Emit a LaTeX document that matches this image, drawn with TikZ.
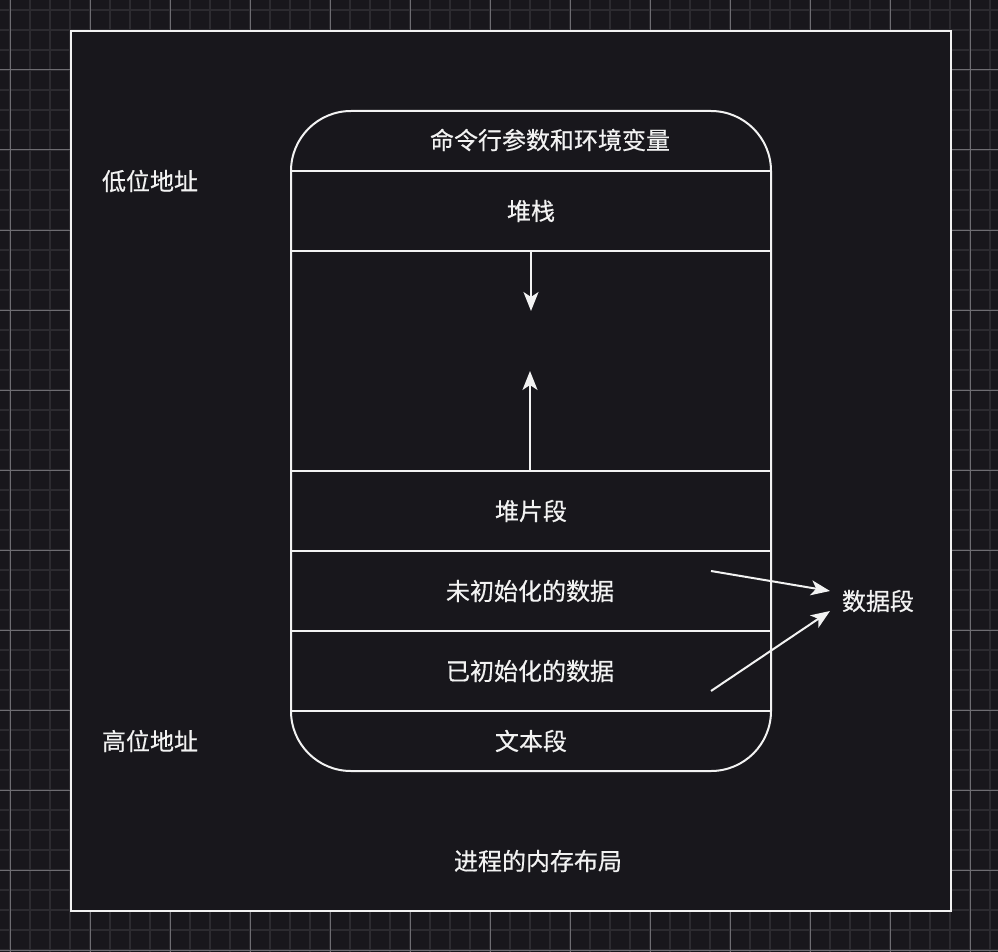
\documentclass[tikz,border=0pt]{standalone}
\usepackage{fontspec}
\newfontfamily\cjk{Noto Sans CJK SC}[FakeBold=0.5]
\usetikzlibrary{arrows.meta}
\definecolor{bg}{HTML}{18171C}
\definecolor{minorgrid}{HTML}{2C2B30}
\definecolor{majorgrid}{HTML}{6E6D72}
\definecolor{fg}{HTML}{F2F2F2}
\tikzset{
  lbl/.style={text=fg,font=\cjk\fontsize{24}{28}\selectfont,inner sep=0pt},
  memline/.style={draw=fg,line width=2pt},
  arr/.style={draw=fg,line width=2pt,-{Stealth[length=19pt,width=15pt,inset=5pt]}},
}
\begin{document}
\begin{tikzpicture}[x=1pt,y=-1pt]
\useasboundingbox (0,0) rectangle (998,952);
\fill[bg] (0,0) rectangle (998,952);
% grid
\foreach \i in {0,...,49} {
  \draw[minorgrid,line width=2pt] ({10+20*\i},0) -- ({10+20*\i},952);
  \draw[minorgrid,line width=2pt] (0,{10+20*\i}) -- (998,{10+20*\i});
}
\foreach \i in {0,...,12} {
  \draw[majorgrid,line width=1pt] ({10+80*\i},0) -- ({10+80*\i},952);
}
\foreach \i in {-1,...,11} {
  \draw[majorgrid,line width=1pt] (0,{70+80*\i}) -- (998,{70+80*\i});
}
% frame
\draw[fill=bg,draw=fg,line width=2pt] (71,31) rectangle (951,911);
% memory shape
\draw[memline,rounded corners=60pt] (291,441) -- (291,111) -- (771,111) -- (771,771) -- (291,771) -- cycle;
\foreach \y in {171,251,471,551,631,711} {
  \draw[memline] (291,\y) -- (771,\y);
}
% labels
\node[lbl] (args) at (550,140) {命令行参数和环境变量};
\node[lbl] (stack) at (531,211) {堆栈};
\node[lbl] (heap) at (531,511) {堆片段};
\node[lbl] (bss) at (530,591) {未初始化的数据};
\node[lbl] (data) at (530,671) {已初始化的数据};
\node[lbl] (text) at (531,741) {文本段};
\node[lbl] (low) at (150,181) {低位地址};
\node[lbl] (high) at (150,741) {高位地址};
\node[lbl] (seg) at (878,601) {数据段};
\node[lbl] (title) at (538,861) {进程的内存布局};
% arrows
\coordinate (s0) at (531,251);
\coordinate (s1) at (531,311);
\coordinate (h0) at (530,471);
\coordinate (h1) at (530,371);
\coordinate (b0) at (711,571);
\coordinate (b1) at (830,591);
\coordinate (d0) at (711,691);
\coordinate (d1) at (830,611);
\draw[arr] (s0) -- (s1);
\draw[arr] (h0) -- (h1);
\draw[arr] (b0) -- (b1);
\draw[arr] (d0) -- (d1);
\end{tikzpicture}
\end{document}
